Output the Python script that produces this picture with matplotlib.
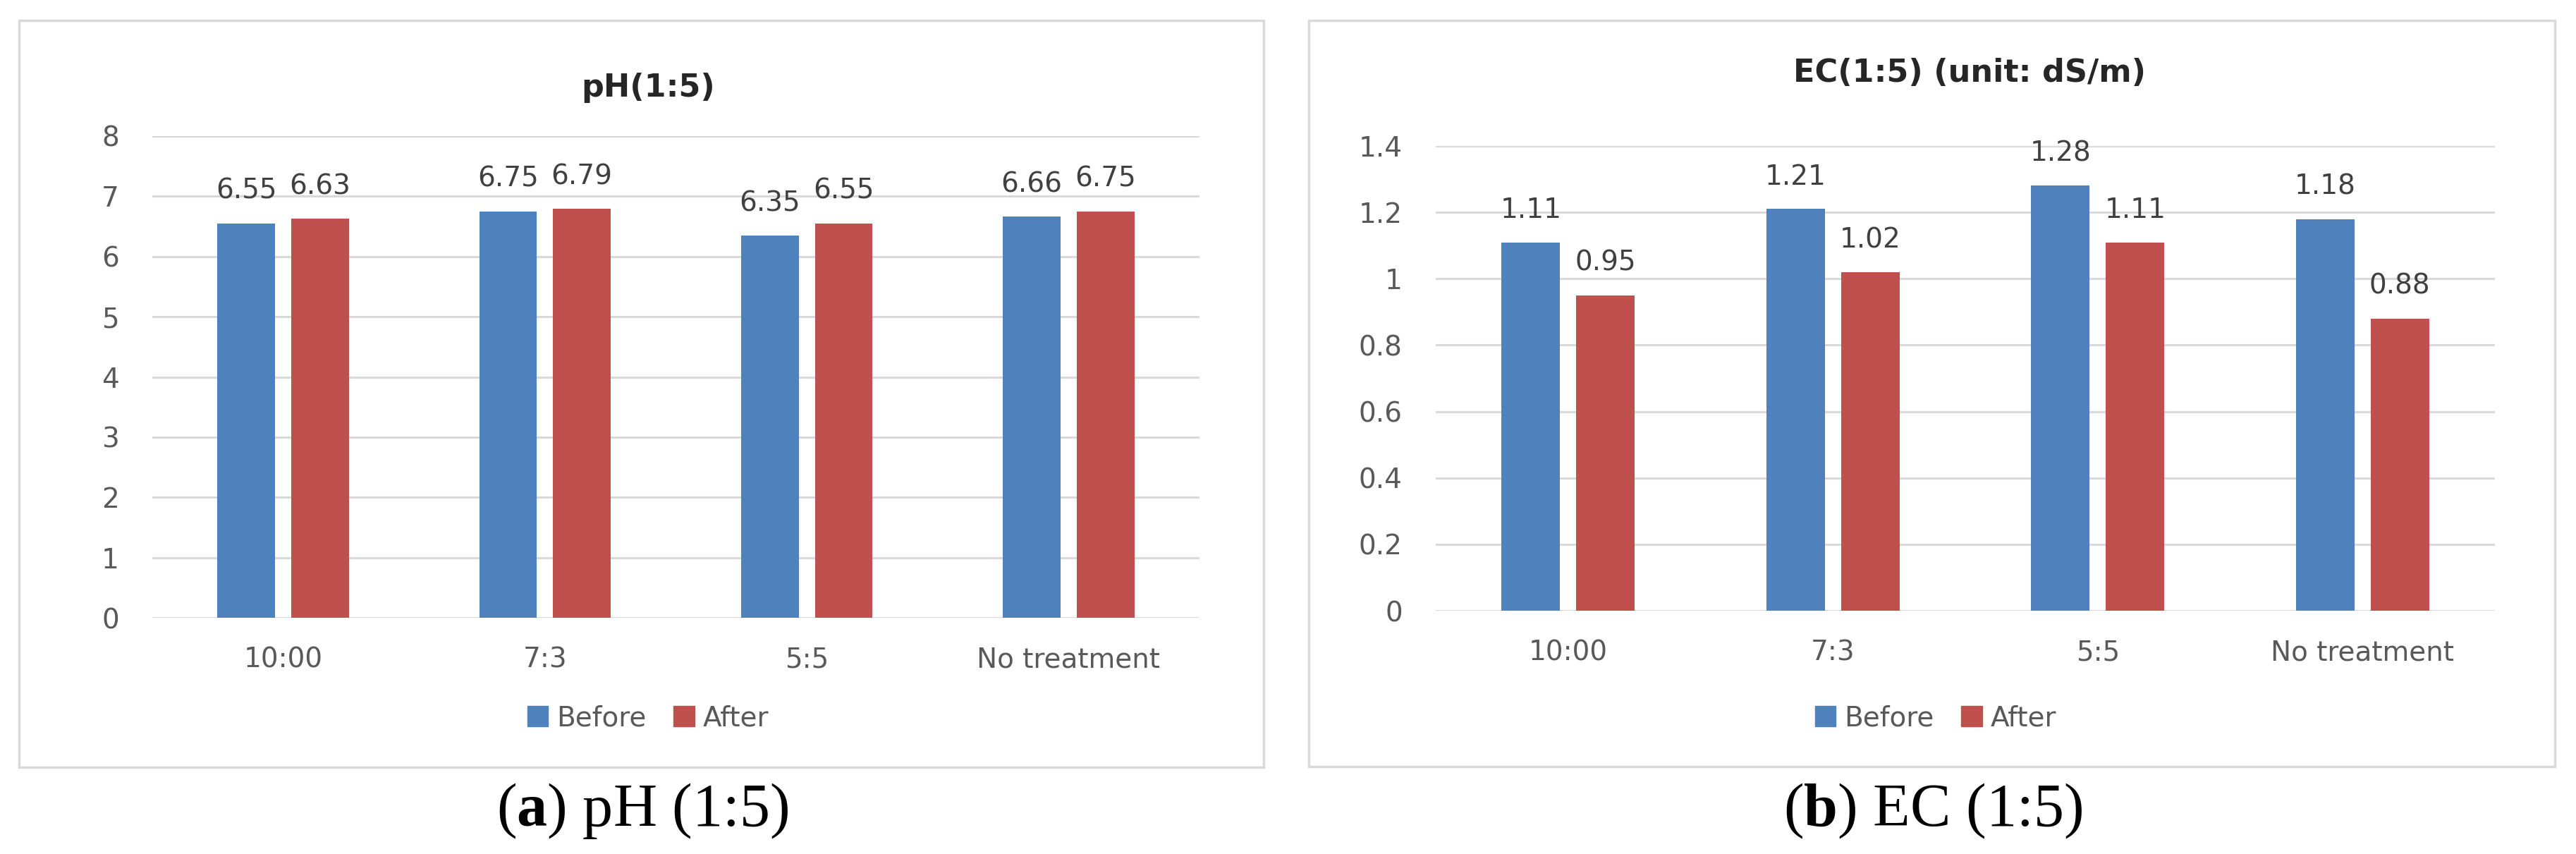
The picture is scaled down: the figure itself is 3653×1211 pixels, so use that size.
import numpy as np
import matplotlib
matplotlib.use("Agg")
import matplotlib.pyplot as plt
from matplotlib.patches import Rectangle, Patch

plt.rcParams["font.family"] = ["DejaVu Sans"]
plt.rcParams["mathtext.fontset"] = "custom"
plt.rcParams["mathtext.rm"] = "Liberation Serif"
plt.rcParams["mathtext.bf"] = "Liberation Serif:bold"

categories = ["10:00", "7:3", "5:5", "No treatment"]
series = ["Before", "After"]
ph_before = [6.55, 6.75, 6.35, 6.66]
ph_after = [6.63, 6.79, 6.55, 6.75]
ec_before = [1.11, 1.21, 1.28, 1.18]
ec_after = [0.95, 1.02, 1.11, 0.88]
ph_ticks = [0, 1, 2, 3, 4, 5, 6, 7, 8]
ec_ticks = [0, 0.2, 0.4, 0.6, 0.8, 1.0, 1.2, 1.4]
ec_ticklabels = ["0", "0.2", "0.4", "0.6", "0.8", "1", "1.2", "1.4"]

BLUE = "#4F81BD"
RED = "#C0504D"
GRID = "#D9D9D9"
TXT = "#595959"

W, H = 3653, 1211
fig = plt.figure(figsize=(W / 100, H / 100), dpi=100)


def fx(px):
    return px / W


def fy(py):
    return 1 - py / H


def panel(box, axbox, title, title_xy, legend_xy, caption, caption_xy,
          before, after, ticks, ticklabels, ylim):
    x0, y0, x1, y1 = box
    fig.add_artist(Rectangle((fx(x0), fy(y1)), fx(x1 - x0), (y1 - y0) / H,
                             transform=fig.transFigure, facecolor="white",
                             edgecolor=GRID, lw=2.5, zorder=-1))
    ax0, ay0, ax1, ay1 = axbox
    ax = fig.add_axes([fx(ax0), fy(ay1), fx(ax1 - ax0), (ay1 - ay0) / H])
    ax.set_facecolor("none")
    x = np.arange(len(categories))
    bw, off = 0.22, 0.141
    ax.bar(x - off, before, bw, color=BLUE, zorder=3)
    ax.bar(x + off, after, bw, color=RED, zorder=3)
    for xs, vals in ((x - off, before), (x + off, after)):
        for xi, v in zip(xs, vals):
            ax.annotate(f"{v:g}", (xi, v), xytext=(0, 33), textcoords="offset points",
                        ha="center", va="center", fontsize=28, color="#404040")
    ax.set_xlim(-0.5, len(categories) - 0.5)
    ax.set_ylim(*ylim)
    ax.set_yticks(ticks)
    ax.set_yticklabels(ticklabels)
    ax.set_xticks(x)
    ax.set_xticklabels(categories)
    ax.tick_params(axis="y", length=0, pad=34, labelsize=28, labelcolor=TXT)
    ax.tick_params(axis="x", length=0, pad=29, labelsize=28, labelcolor=TXT)
    ax.grid(axis="y", color=GRID, lw=2.2, zorder=0)
    for s in ax.spines.values():
        s.set_visible(False)
    fig.text(fx(title_xy[0]), fy(title_xy[1]), title, ha="center", va="center",
             fontsize=32, fontweight="bold", color="#262626")
    handles = [Patch(color=BLUE), Patch(color=RED)]
    fig.legend(handles, series, loc="center",
               bbox_to_anchor=(fx(legend_xy[0]), fy(legend_xy[1])), ncol=2,
               frameon=False, fontsize=28, labelcolor=TXT, handlelength=0.75,
               handleheight=0.75, handletextpad=0.3, columnspacing=1.0)
    fig.text(fx(caption_xy[0]), fy(caption_xy[1]), caption, ha="center",
             va="center", fontsize=62, family="Liberation Serif", color="black")
    return ax


panel((27, 29, 1792, 1088), (216, 193, 1701, 876), "pH(1:5)", (919, 124),
      (919, 1018), r"($\mathbf{a}$) pH (1:5)", (911, 1150),
      ph_before, ph_after, ph_ticks, [str(t) for t in ph_ticks], (0, 8))
panel((1856, 29, 3623, 1087), (2036, 207, 3538, 866), "EC(1:5) (unit: dS/m)",
      (2793, 104), (2745, 1018), r"($\mathbf{b}$) EC (1:5)", (2741, 1150),
      ec_before, ec_after, ec_ticks, ec_ticklabels, (0, 1.4))

fig.savefig("out.png", dpi=100, facecolor="white")
